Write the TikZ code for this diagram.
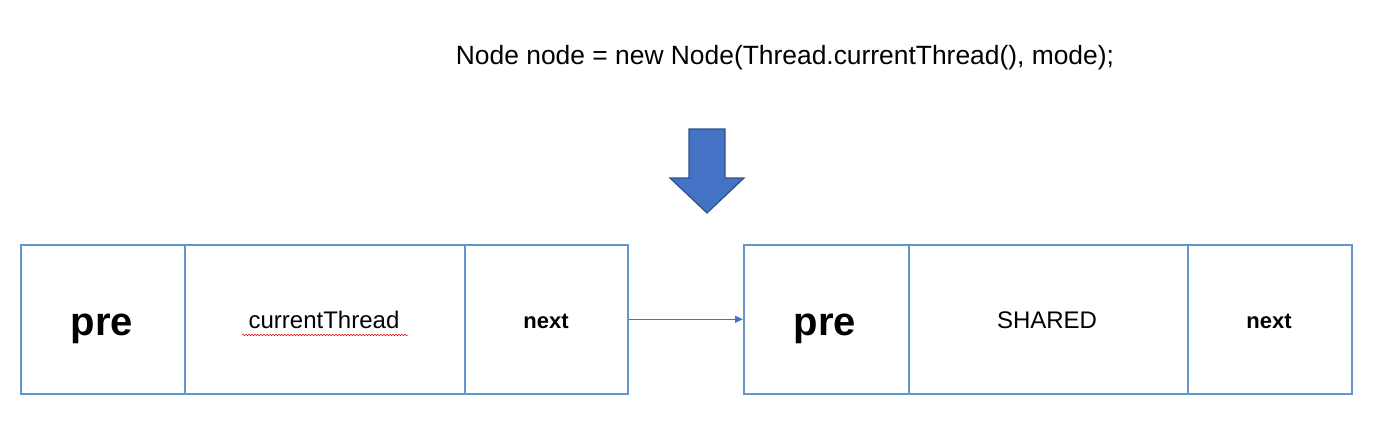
\documentclass[tikz,border=0pt]{standalone}
\usepackage{fontspec}
\setmainfont{Liberation Sans}
\usetikzlibrary{arrows.meta,shapes.arrows,decorations.pathmorphing}
\definecolor{boxblue}{RGB}{100,150,205}
\definecolor{arrblue}{RGB}{68,114,196}
\definecolor{arredge}{RGB}{47,82,143}
\tikzset{
  cell/.style={draw=boxblue,line width=1.6pt,minimum height=149pt,inner sep=0pt,anchor=north west},
  big/.style={font=\fontsize{40}{46}\selectfont\bfseries,anchor=base},
  mid/.style={font=\fontsize{22}{26}\selectfont\bfseries},
  reg/.style={font=\fontsize{24}{28}\selectfont},
  code/.style={font=\fontsize{26.4}{30}\selectfont},
  link/.style={draw=arrblue,line width=1.3pt,-{Triangle[length=8pt,width=7pt]}}
}
\begin{document}
\begin{tikzpicture}[x=1pt,y=-1pt]
\useasboundingbox (0,0) rectangle (1386,436);
\node[code] (code) at (785,58) {Node node = new Node(Thread.currentThread(), mode);};
\draw[fill=arrblue,draw=arredge,line width=1.2pt] (689,129) -- (725,129) -- (725,178) -- (744,178) -- (707,213) -- (670,178) -- (689,178) -- cycle;
% left node
\node[cell,minimum width=164pt] (lpre) at (20,244) {};
\node[cell,minimum width=280pt] (lcur) at (184,244) {};
\node[cell,minimum width=163pt] (lnext) at (464,244) {};
\node[big] at (102,335) {pre};
\node[reg] (lct) at (324,320) {currentThread};
\node[mid] at (546,321) {next};
\draw[red,line width=0.5pt,decorate,decoration={snake,amplitude=0.8pt,segment length=3pt}] (242,335) -- (408,335);
% right node
\node[cell,minimum width=165pt] (rpre) at (743,244) {};
\node[cell,minimum width=279pt] (rsh) at (908,244) {};
\node[cell,minimum width=164pt] (rnext) at (1187,244) {};
\node[big] at (825,335) {pre};
\node[reg] at (1047,320) {SHARED};
\node[mid] at (1269,321) {next};
\draw[link] (lnext.east) -- (rpre.west);
\end{tikzpicture}
\end{document}
